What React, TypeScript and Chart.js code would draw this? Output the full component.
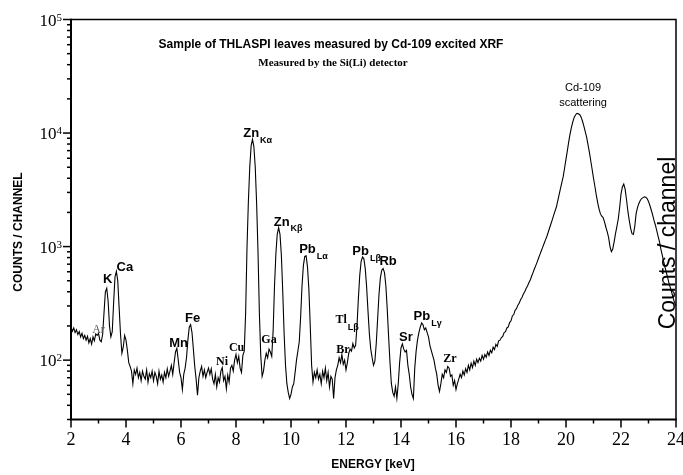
import React, { useEffect, useRef } from "react";
import { Chart, registerables } from "chart.js";

Chart.register(...registerables);

// Spectrum: counts per channel, channels every 0.05 keV starting at 2.00 keV
const E_START = 2;
const E_STEP = 0.05;
const COUNTS: number[] = [
  // 2.00 - 2.95
  195, 180, 192, 175, 185, 168, 178, 160, 172, 155, 165, 150, 162, 142, 155, 138, 160, 148, 170, 165,
  // 3.00 - 3.95
  172, 150, 145, 168, 260, 400, 430, 330, 200, 160, 178, 320, 540, 605, 500, 290, 170, 115, 130, 165,
  // 4.00 - 4.95
  150, 122, 95, 88, 80, 62, 82, 75, 85, 70, 78, 66, 80, 72, 68, 82, 64, 76, 70, 80,
  // 5.00 - 5.95
  66, 78, 72, 62, 80, 68, 74, 64, 78, 70, 84, 72, 80, 90, 75, 95, 118, 127, 100, 78,
  // 6.00 - 6.95
  70, 55, 75, 85, 105, 150, 195, 205, 175, 125, 88, 68, 49, 70, 80, 88, 72, 82, 70, 78,
  // 7.00 - 7.95
  85, 75, 84, 68, 62, 75, 58, 70, 64, 80, 86, 66, 72, 56, 74, 64, 85, 90, 80, 100,
  // 8.00 - 8.95
  112, 95, 108, 85, 78, 110, 120, 260, 980, 2500, 5000, 7700, 8800, 7600, 5000, 2400, 900, 260, 110, 72,
  // 9.00 - 9.95
  80, 100, 115, 105, 125, 118, 108, 180, 450, 860, 1290, 1470, 1280, 840, 400, 170, 90, 62, 52, 46,
  // 10.00 - 10.95
  50, 58, 62, 78, 100, 120, 145, 240, 450, 680, 820, 830, 660, 420, 200, 90, 64, 78, 70, 82,
  // 11.00 - 11.95
  68, 75, 62, 80, 70, 85, 66, 78, 58, 72, 68, 46, 70, 82, 90, 105, 95, 112, 92, 100,
  // 12.00 - 12.95
  82, 95, 115, 125, 120, 140, 128, 135, 200, 350, 560, 740, 810, 780, 640, 440, 270, 170, 125, 105,
  // 13.00 - 13.95
  90, 98, 140, 230, 380, 530, 620, 640, 590, 450, 280, 160, 95, 62, 52, 48, 58, 46, 62, 95,
  // 14.00 - 14.95
  128, 139, 125, 118, 122, 90, 75, 58, 50, 46, 85, 120, 150, 175, 195, 213, 205, 185, 192, 175,
  // 15.00 - 15.95
  160, 135, 122, 110, 100, 85, 75, 60, 53, 62, 75, 70, 82, 78, 88, 85, 72, 74, 60, 66,
  // 16.00 - 16.95
  55, 62, 68, 75, 70, 80, 74, 84, 78, 90, 82, 94, 86, 98, 90, 102, 95, 104, 98, 110,
  // 17.00 - 17.95
  102, 112, 106, 118, 110, 122, 116, 130, 124, 138, 132, 148, 150, 158, 162, 175, 178, 192, 196, 214,
  // 18.00 - 18.95
  222, 245, 252, 275, 284, 305, 318, 342, 356, 382, 400, 428, 450, 480, 508, 548, 590, 635, 680, 730,
  // 19.00 - 19.95
  790, 850, 915, 985, 1060, 1140, 1220, 1330, 1450, 1580, 1720, 1880, 2050, 2230, 2530, 2870, 3250, 3680, 4150, 4950,
  // 20.00 - 20.95
  5900, 7000, 8400, 9900, 11300, 12600, 13800, 14500, 14900, 14800, 14500, 13800, 12700, 11500, 10300, 9200, 7900, 6800, 5700, 4800,
  // 21.00 - 21.95
  4000, 3400, 2850, 2450, 2150, 1950, 1850, 1800, 1650, 1480, 1350, 1200, 1000, 900, 950, 1100, 1300, 1500, 1750, 2200,
  // 22.00 - 22.95
  2900, 3350, 3550, 3200, 2600, 2050, 1700, 1450, 1300, 1280, 1500, 1950, 2200, 2400, 2550, 2650, 2700, 2740, 2720, 2650,
  // 23.00 - 23.95
  2500, 2300, 2100, 1900, 1700, 1550, 1380, 1230, 1100, 950, 840, 740, 660, 590, 530, 470, 430, 390, 350, 320,
  // 24.00
  300,
];

const X_MIN = 2;
const X_MAX = 24;
const Y_MIN = 30;
const Y_MAX = 100000;
const Y_LABEL_EXPONENTS = [2, 3, 4, 5];

const TITLE = "Sample of THLASPI leaves measured by Cd-109 excited XRF";
const SUBTITLE = "Measured by the Si(Li) detector";
const X_TITLE = "ENERGY [keV]";
const Y_TITLE = "COUNTS / CHANNEL";
const Y2_TITLE = "Counts / channel";

// Peak annotations: anchor in data coordinates (keV, counts)
type PeakLabel = { text: string; sub: string; e: number; c: number; kind: "sans" | "serif" | "light" };
const PEAK_LABELS: PeakLabel[] = [
  { text: "Ar", sub: "", e: 3.0, c: 185, kind: "light" },
  { text: "K", sub: "", e: 3.33, c: 514, kind: "sans" },
  { text: "Ca", sub: "", e: 3.96, c: 662, kind: "sans" },
  { text: "Mn", sub: "", e: 5.91, c: 141, kind: "sans" },
  { text: "Fe", sub: "", e: 6.42, c: 233, kind: "sans" },
  { text: "Ni", sub: "", e: 7.49, c: 97, kind: "serif" },
  { text: "Cu", sub: "", e: 8.02, c: 128, kind: "serif" },
  { text: "Zn", sub: "K\u03b1", e: 8.55, c: 10000, kind: "sans" },
  { text: "Ga", sub: "", e: 9.2, c: 151, kind: "serif" },
  { text: "Zn", sub: "K\u03b2", e: 9.66, c: 1648, kind: "sans" },
  { text: "Pb", sub: "L\u03b1", e: 10.6, c: 944, kind: "sans" },
  { text: "Tl", sub: "L\u03b2", e: 11.82, c: 224, kind: "serif" },
  { text: "Br", sub: "", e: 11.89, c: 123, kind: "serif" },
  { text: "Pb", sub: "L\u03b2", e: 12.53, c: 907, kind: "sans" },
  { text: "Rb", sub: "", e: 13.53, c: 733, kind: "sans" },
  { text: "Sr", sub: "", e: 14.18, c: 159, kind: "sans" },
  { text: "Pb", sub: "L\u03b3", e: 14.76, c: 243, kind: "sans" },
  { text: "Zr", sub: "", e: 15.78, c: 103, kind: "serif" },
];
const SCATTER_LABEL = ["Cd-109", "scattering"];
const SCATTER_ANCHOR = { e: 20.62, c: 25000 };

const SANS = "'Liberation Sans', Arial, Helvetica, sans-serif";
const SERIF = "'Liberation Serif', 'Times New Roman', Times, serif";

const decorPlugin = {
  id: "decor",
  afterDraw(chart: any) {
    const { ctx, chartArea: a, scales } = chart;
    const xs = scales.x;
    const ys = scales.y;
    ctx.save();
    ctx.strokeStyle = "#000";
    ctx.fillStyle = "#000";

    // frame
    ctx.lineWidth = 1.5;
    ctx.beginPath();
    ctx.moveTo(a.left, a.top);
    ctx.lineTo(a.right, a.top);
    ctx.lineTo(a.right, a.bottom);
    ctx.stroke();
    ctx.lineWidth = 2;
    ctx.beginPath();
    ctx.moveTo(a.left, a.top - 0.75);
    ctx.lineTo(a.left, a.bottom);
    ctx.lineTo(a.right + 0.75, a.bottom);
    ctx.stroke();

    // x ticks + labels
    ctx.lineWidth = 1.5;
    ctx.font = `18px ${SERIF}`;
    ctx.textAlign = "center";
    ctx.textBaseline = "alphabetic";
    for (let v = X_MIN; v <= X_MAX; v++) {
      const px = xs.getPixelForValue(v);
      const major = v % 2 === 0;
      ctx.beginPath();
      ctx.moveTo(px, a.bottom);
      ctx.lineTo(px, a.bottom + (major ? 8 : 4));
      ctx.stroke();
      if (major) ctx.fillText(String(v), px, a.bottom + 25);
    }

    // y ticks
    for (let e = 1; e <= 5; e++) {
      for (let m = 1; m <= 9; m++) {
        const v = m * Math.pow(10, e);
        if (v < Y_MIN || v > Y_MAX) continue;
        const py = ys.getPixelForValue(v);
        ctx.beginPath();
        ctx.moveTo(a.left, py);
        ctx.lineTo(a.left - (m === 1 ? 8 : 4), py);
        ctx.stroke();
      }
    }
    // y labels 10^n
    for (const ex of Y_LABEL_EXPONENTS) {
      const py = ys.getPixelForValue(Math.pow(10, ex));
      ctx.font = `11px ${SERIF}`;
      const expW = ctx.measureText(String(ex)).width;
      const right = a.left - 9;
      ctx.textAlign = "left";
      ctx.fillText(String(ex), right - expW, py + 1);
      ctx.font = `17px ${SERIF}`;
      ctx.textAlign = "right";
      ctx.fillText("10", right - expW, py + 6);
    }

    // titles
    ctx.textAlign = "center";
    ctx.textBaseline = "middle";
    ctx.font = `bold 12px ${SANS}`;
    ctx.fillText(TITLE, 331, 45);
    ctx.font = `bold 11px ${SERIF}`;
    ctx.fillText(SUBTITLE, 333, 63);
    ctx.font = `bold 12px ${SANS}`;
    ctx.fillText(X_TITLE, 373, 465);
    ctx.save();
    ctx.translate(19, 232);
    ctx.rotate(-Math.PI / 2);
    ctx.fillText(Y_TITLE, 0, 0);
    ctx.restore();

    ctx.save();
    ctx.translate(675, 243);
    ctx.rotate(-Math.PI / 2);
    ctx.textBaseline = "alphabetic";
    ctx.font = `23px ${SANS}`;
    ctx.fillText(Y2_TITLE, 0, 0);
    ctx.restore();

    // peak labels
    for (const lb of PEAK_LABELS) {
      const px = xs.getPixelForValue(lb.e);
      const py = ys.getPixelForValue(lb.c);
      if (lb.kind === "sans") ctx.font = `bold 13px ${SANS}`;
      else if (lb.kind === "serif") ctx.font = `bold 12px ${SERIF}`;
      else ctx.font = `12px ${SERIF}`;
      ctx.fillStyle = lb.kind === "light" ? "#555" : "#000";
      ctx.textAlign = "center";
      ctx.textBaseline = "middle";
      ctx.fillText(lb.text, px, py);
      if (lb.sub) {
        const w = ctx.measureText(lb.text).width;
        ctx.font = `bold 9px ${SANS}`;
        ctx.textAlign = "left";
        ctx.fillText(lb.sub, px + w / 2 + 1, py + 7);
      }
    }

    // Cd-109 scattering
    ctx.fillStyle = "#000";
    ctx.font = `11px ${SANS}`;
    ctx.textAlign = "center";
    ctx.textBaseline = "middle";
    const sx = xs.getPixelForValue(SCATTER_ANCHOR.e);
    const sy = ys.getPixelForValue(SCATTER_ANCHOR.c);
    ctx.fillText(SCATTER_LABEL[0], sx, sy);
    ctx.fillText(SCATTER_LABEL[1], sx, sy + 15);

    ctx.restore();
  },
};

export default function App() {
  const ref = useRef<HTMLCanvasElement | null>(null);
  useEffect(() => {
    if (!ref.current) return;
    const points = COUNTS.map((c, i) => ({ x: E_START + i * E_STEP, y: c }));
    const chart = new Chart(ref.current, {
      type: "line",
      data: {
        datasets: [
          {
            data: points,
            borderColor: "#000",
            borderWidth: 1.1,
            pointRadius: 0,
            tension: 0,
            fill: false,
          },
        ],
      },
      options: {
        animation: false,
        responsive: false,
        events: [],
        layout: { padding: { top: 19.5, right: 7, left: 0, bottom: 0 } },
        plugins: { legend: { display: false }, tooltip: { enabled: false }, title: { display: false } },
        scales: {
          x: {
            type: "linear",
            min: X_MIN,
            max: X_MAX,
            grid: { display: false },
            border: { display: false },
            ticks: { display: false },
            afterFit: (s: any) => {
              s.height = 55.5;
            },
          },
          y: {
            type: "logarithmic",
            min: Y_MIN,
            max: Y_MAX,
            grid: { display: false },
            border: { display: false },
            ticks: { display: false },
            afterFit: (s: any) => {
              s.width = 71;
            },
          },
        },
      },
      plugins: [decorPlugin],
    });
    return () => chart.destroy();
  }, []);
  return (
    <div style={{ position: "fixed", left: 0, top: 0, width: 683, height: 475, background: "#fff" }}>
      <canvas ref={ref} width={683} height={475} />
    </div>
  );
}
